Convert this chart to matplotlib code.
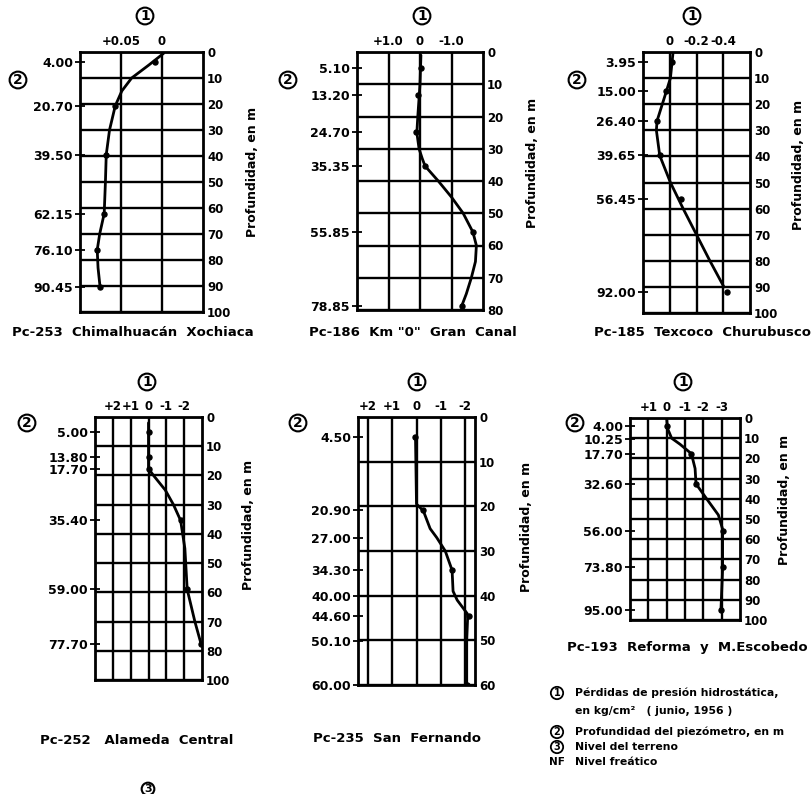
import numpy as np
import matplotlib.pyplot as plt

W, H = 811, 794

# -----------------------------
# Datos
# -----------------------------
# Pc-253 Chimalhuacan Xochiaca
p1_piez = [4.00, 20.70, 39.50, 62.15, 76.10, 90.45]
p1_perd = [0.008, 0.057, 0.068, 0.0705, 0.079, 0.0755]
p1_curva_z = [0.5, 5, 10, 15, 20.7, 30, 39.5, 50, 62.15, 70, 76.1, 83, 90.45]
p1_curva_p = [-0.002, 0.016, 0.037, 0.049, 0.057, 0.064, 0.068, 0.069, 0.0705, 0.076, 0.079, 0.078, 0.0755]

# Pc-186 Km "0" Gran Canal
p2_piez = [5.10, 13.20, 24.70, 35.35, 55.85, 78.85]
p2_perd = [-0.02, 0.05, 0.12, -0.16, -1.68, -1.32]
p2_curva_z = [1, 10, 20, 25, 30, 33, 35.35, 40, 45, 50, 55.85, 60, 65, 70, 75, 78.85]
p2_curva_p = [-0.03, 0.0, 0.07, 0.1, 0.03, -0.07, -0.16, -0.58, -1.0, -1.37, -1.68, -1.79, -1.76, -1.63, -1.47, -1.32]

# Pc-185 Texcoco Churubusco
p3_piez = [3.95, 15.00, 26.40, 39.65, 56.45, 92.00]
p3_perd = [-0.02, 0.025, 0.095, 0.075, -0.085, -0.43]
p3_curva_z = [0, 10, 15, 26.4, 30, 39.65, 50, 60, 70, 80, 90]
p3_curva_p = [-0.025, -0.005, 0.025, 0.095, 0.1, 0.075, -0.005, -0.1, -0.2, -0.3, -0.405]

# Pc-252 Alameda Central
p4_piez = [5.00, 13.80, 17.70, 35.40, 59.00, 77.70]
p4_perd = [0.0, -0.05, 0.0, -1.8, -2.17, -2.95]
p4_curva_z = [2, 17.7, 20, 25, 30, 35.4, 45, 59, 70, 77.7]
p4_curva_p = [0.0, 0.0, -0.28, -0.94, -1.4, -1.8, -2.04, -2.17, -2.6, -2.95]

# Pc-235 San Fernando
p5_piez = [4.50, 20.90, 27.00, 34.30, 40.00, 44.60, 50.10, 60.00]
p5_pts_z = [4.5, 20.9, 34.3, 44.6, 60.0]
p5_pts_p = [0.07, -0.28, -1.46, -2.15, -2.08]
p5_curva_z = [5, 19.5, 21, 25, 27, 30, 34.3, 39, 41, 44, 44.6, 50.1, 60]
p5_curva_p = [0.04, 0.0, -0.28, -0.56, -0.83, -1.18, -1.46, -1.5, -1.67, -2.08, -2.1, -2.06, -2.06]

# Pc-193 Reforma y M. Escobedo
p6_piez = [4.00, 10.25, 17.70, 32.60, 56.00, 73.80, 95.00]
p6_pts_z = [4.0, 17.7, 32.6, 56.0, 73.8, 95.0]
p6_pts_p = [-0.02, -1.35, -1.6, -3.05, -3.05, -2.96]
p6_curva_z = [0, 5, 10, 13, 17.7, 25, 32.6, 40, 48, 55, 75, 95]
p6_curva_p = [0.0, -0.04, -0.27, -0.73, -1.35, -1.55, -1.6, -2.18, -2.82, -3.05, -3.05, -2.96]

titulos = ["Pc-253  Chimalhuacán  Xochiaca", 'Pc-186  Km "0"  Gran  Canal',
           "Pc-185  Texcoco  Churubusco", "Pc-252   Alameda  Central",
           "Pc-235  San  Fernando", "Pc-193  Reforma  y  M.Escobedo"]

leyenda = ["Pérdidas de presión hidrostática,", "en kg/cm²   ( junio, 1956 )",
           "Profundidad del piezómetro, en m", "Nivel del terreno", "Nivel freático"]

FONT = dict(fontweight="bold", family="DejaVu Sans")

fig = plt.figure(figsize=(W / 100, H / 100), dpi=100)


def fx(x):
    return x / W


def fy(y):
    return 1 - y / H


def texto(x, y, s, size=8.5, **kw):
    fig.text(fx(x), fy(y), s, fontsize=size, **FONT, **kw)


def circulo(x, y, s, size=9, lw=1.5, pad=0.12):
    fig.text(fx(x), fy(y), s, fontsize=size, ha="center", va="center", **FONT,
             bbox=dict(boxstyle=f"circle,pad={pad}", fc="white", ec="black", lw=lw))


def panel(caja, xlim, xgrid, xlab, zmax, zticks, zlab, piez, cz, cp, pz, pp):
    x0, y0, x1, y1 = caja
    ax = fig.add_axes([fx(x0), fy(y1), (x1 - x0) / W, (y1 - y0) / H])
    ax2 = ax.twinx()
    ax.set_xlim(xlim)
    ax.set_ylim(zmax, 0)
    ax.set_xticks(xgrid)
    ax.set_xticklabels(xlab, **FONT)
    ax.xaxis.tick_top()
    ax.set_yticks(zticks)
    ax.set_yticklabels(zlab, **FONT)
    ax.yaxis.tick_right()
    ax.tick_params(length=0, labelsize=8.5, pad=3)
    ax.grid(True, color="black", lw=1.7)
    for s in ax.spines.values():
        s.set_linewidth(2.0)
    ax.plot(cp, cz, color="black", lw=2.0, solid_capstyle="round")
    ax.plot(pp, pz, "o", color="black", ms=3.6)

    ax2.set_ylim(zmax, 0)
    ax2.yaxis.tick_left()
    ax2.set_yticks(piez)
    ax2.set_yticklabels([f"{v:.2f}" for v in piez], **FONT)
    ax2.tick_params(direction="inout", length=7, width=1.3, labelsize=9, pad=1.5)
    for s in ax2.spines.values():
        s.set_visible(False)
    return ax


# --- fila superior ---
panel((80, 52, 203, 312), (0.10, -0.05), [0.05, 0.0], ["+0.05", "0"],
      100, range(0, 101, 10), [str(v) for v in range(0, 101, 10)],
      p1_piez, p1_curva_z, p1_curva_p, p1_piez, p1_perd)
panel((357, 52, 483, 310), (2.0, -2.0), [1.0, 0.0, -1.0], ["+1.0", "0", "-1.0"],
      80, range(0, 81, 10), [str(v) for v in range(0, 81, 10)],
      p2_piez, p2_curva_z, p2_curva_p, p2_piez, p2_perd)
panel((643, 52, 750, 313), (0.2, -0.6), [0.0, -0.2, -0.4], ["0", "-0.2", "-0.4"],
      100, range(0, 101, 10), [str(v) for v in range(0, 101, 10)],
      p3_piez, p3_curva_z, p3_curva_p, p3_piez, p3_perd)

# --- fila inferior ---
panel((95, 417, 202, 680), (3.0, -3.0), [2, 1, 0, -1, -2], ["+2", "+1", "0", "-1", "-2"],
      90, range(0, 91, 10), ["0", "10", "20", "30", "40", "50", "60", "70", "80", "100"],
      p4_piez, p4_curva_z, p4_curva_p, p4_piez, p4_perd)
panel((358, 417, 475, 685), (2.4, -2.4), [2, 1, 0, -1, -2], ["+2", "+1", "0", "-1", "-2"],
      60, range(0, 61, 10), [str(v) for v in range(0, 61, 10)],
      p5_piez, p5_curva_z, p5_curva_p, p5_pts_z, p5_pts_p)
panel((630, 418, 740, 620), (2.0, -4.0), [1, 0, -1, -2, -3], ["+1", "0", "-1", "-2", "-3"],
      100, range(0, 101, 10), [str(v) for v in range(0, 101, 10)],
      p6_piez, p6_curva_z, p6_curva_p, p6_pts_z, p6_pts_p)

# circulos, titulos y rotulos de profundidad
for (x1, y1), (x2, y2), (xt, yt), (xp, yp), t in zip(
        [(145, 16), (422, 16), (692, 16), (147, 382), (417, 382), (683, 382)],
        [(18, 80), (288, 80), (577, 80), (27, 423), (298, 423), (575, 423)],
        [(133, 333), (413, 333), (702, 333), (137, 740), (397, 738), (687, 647)],
        [(252, 172), (533, 163), (798, 165), (248, 525), (527, 527), (785, 500)],
        titulos):
    circulo(x1, y1, "1", size=10, pad=0.1)
    circulo(x2, y2, "2", size=10, pad=0.1)
    texto(xt, yt, t, size=9.5, ha="center", va="center")
    texto(xp, yp, "Profundidad, en m", size=9, ha="center", va="center", rotation=90)

# leyenda
circulo(557, 693, "1", size=7, lw=1.3)
texto(575, 693, leyenda[0], size=7.8, ha="left", va="center")
texto(575, 711, leyenda[1], size=7.8, ha="left", va="center")
circulo(557, 732, "2", size=7, lw=1.3)
texto(575, 732, leyenda[2], size=7.8, ha="left", va="center")
circulo(557, 747, "3", size=7, lw=1.3)
texto(575, 747, leyenda[3], size=7.8, ha="left", va="center")
texto(557, 762, "NF", size=7.5, ha="center", va="center")
texto(575, 762, leyenda[4], size=7.8, ha="left", va="center")

# fragmento recortado al pie
circulo(148, 789, "3", size=8)

fig.savefig("out.png", dpi=100)
